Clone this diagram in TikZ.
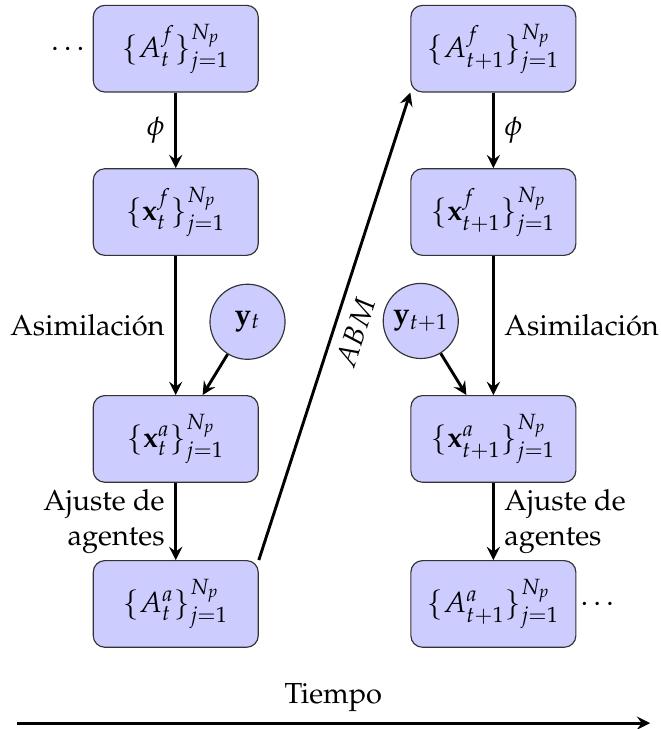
\documentclass[tikz,border=0pt]{standalone}
\usepackage[T1]{fontenc}
\usepackage{mathpazo}
\usepackage{amsmath,amssymb}
\usetikzlibrary{arrows}

\begin{document}
\begin{tikzpicture}[box/.style={draw=black!80, rounded corners, fill=blue!20, minimum width=2cm, minimum height=1.05cm},
    obs/.style={draw=black!80, circle, fill=blue!20, minimum size=0.91cm, inner sep=0pt},
    flow/.style={->, >=stealth, line width=1pt}]
    \useasboundingbox (0,0) rectangle (8,-8.836);
    % tiempo t
    \node[box](af)at (2.13,-0.59){$\{A_t^f\}_{j=1}^{N_p}$};
    \node[box](xf)at (2.13,-2.57){$\{\mathbf{x}_t^f\}_{j=1}^{N_p}$};
    \node[box](xa)at (2.13,-5.32){$\{\mathbf{x}_t^a\}_{j=1}^{N_p}$};
    \node[box](aa)at (2.13,-7.32){$\{A_t^a\}_{j=1}^{N_p}$};
    \node[obs](y)at (3.0,-3.9){$\mathbf{y}_t$};
    % tiempo t+1
    \node[box](af1)at (5.98,-0.59){$\{A_{t+1}^f\}_{j=1}^{N_p}$};
    \node[box](xf1)at (5.98,-2.57){$\{\mathbf{x}_{t+1}^f\}_{j=1}^{N_p}$};
    \node[box](xa1)at (5.98,-5.32){$\{\mathbf{x}_{t+1}^a\}_{j=1}^{N_p}$};
    \node[box](aa1)at (5.98,-7.32){$\{A_{t+1}^a\}_{j=1}^{N_p}$};
    \node[obs](y1)at (5.1,-3.89){$\mathbf{y}_{t+1}$};
    \node[anchor=east, inner sep=2.6pt](d0)at (af.west){$\ldots$};
    \node[anchor=west, inner sep=1.2pt](d1)at (aa1.east){$\ldots$};
    \draw[flow](af)--node[left]{$\phi$}(xf);
    \draw[flow](xf)--node[left]{Asimilaci\'on}(xa);
    \draw[flow](y)--(xa);
    \draw[flow](xa)--node[left, align=right]{Ajuste de\\agentes}(aa);
    \draw[flow](aa.north east)--node[midway, sloped, below]{$ABM$}(af1.south west);
    \draw[flow](af1)--node[right]{$\phi$}(xf1);
    \draw[flow](xf1)--node[right]{Asimilaci\'on}(xa1);
    \draw[flow](y1)--(xa1);
    \draw[flow](xa1)--node[right, align=left]{Ajuste de\\agentes}(aa1);
    % eje del tiempo
    \coordinate (t0) at (0.2,-8.764);
    \coordinate (t1) at (7.88,-8.764);
    \draw[flow](t0)--node[above]{Tiempo}(t1);
    \end{tikzpicture}
\end{document}
